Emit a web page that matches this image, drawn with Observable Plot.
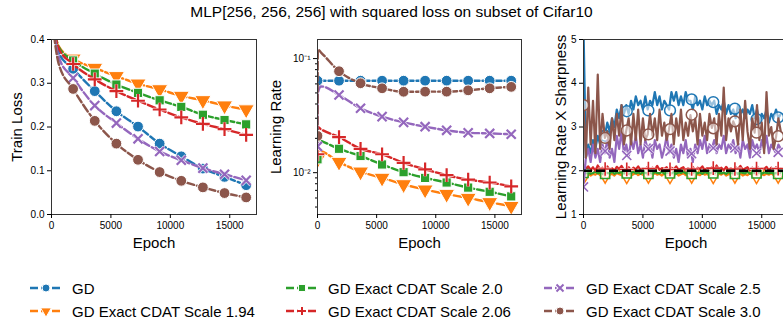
<!DOCTYPE html>
<html><head><meta charset="utf-8">
<script src="https://cdn.jsdelivr.net/npm/d3@7"></script>
<script src="https://cdn.jsdelivr.net/npm/@observablehq/plot@0.6"></script>
<style>
body{margin:0;background:#fff;}
#wrap{position:relative;width:783px;height:320px;overflow:hidden;font-family:"Liberation Sans",Arial,sans-serif;color:#000;}
#title{position:absolute;left:0;width:783px;top:3px;text-align:center;font-size:15.5px;}
.panel{position:absolute;top:0;}
.leg{position:absolute;font-size:15px;display:flex;align-items:center;white-space:nowrap;height:16px;}
.leg svg{margin-right:10px;overflow:visible;}
</style></head><body>
<div id="wrap"><div id="title">MLP[256, 256, 256] with squared loss on subset of Cifar10</div></div>
<script>
// ---------- series ----------
const seriesNames = ["GD", "GD Exact CDAT Scale 1.94", "GD Exact CDAT Scale 2.0", "GD Exact CDAT Scale 2.06", "GD Exact CDAT Scale 2.5", "GD Exact CDAT Scale 3.0"];
const seriesColors = ["#1f77b4", "#ff7f0e", "#2ca02c", "#d62728", "#9467bd", "#8c564b"];
const seriesSymbols = ["circle", "triangle", "square", "plus", "times", "circle"];

// marker epochs
const markerEpochs = [0, 1820, 3640, 5460, 7280, 9100, 10920, 12740, 14560, 16380];

// ---------- panel 1: train loss ----------
const lossEpochs = [0, 600, 1820, 3640, 5460, 7280, 9100, 10920, 12740, 14560, 16380];
const lossGD    = [0.46, 0.370, 0.333, 0.282, 0.236, 0.201, 0.162, 0.133, 0.105, 0.086, 0.067];
const loss194   = [0.46, 0.385, 0.356, 0.335, 0.316, 0.299, 0.286, 0.271, 0.261, 0.249, 0.240];
const loss200   = [0.46, 0.383, 0.352, 0.322, 0.297, 0.278, 0.261, 0.246, 0.228, 0.216, 0.206];
const loss206   = [0.46, 0.380, 0.344, 0.309, 0.282, 0.260, 0.240, 0.222, 0.207, 0.195, 0.182];
const loss250   = [0.46, 0.360, 0.312, 0.249, 0.209, 0.173, 0.144, 0.124, 0.106, 0.092, 0.078];
const loss300   = [0.46, 0.345, 0.287, 0.214, 0.162, 0.125, 0.097, 0.077, 0.062, 0.049, 0.039];
const lossTicks = [0, 0.1, 0.2, 0.3, 0.4];

// ---------- panel 2: learning rate ----------
const lrEpochs = [0, 30, 300, 1820, 3640, 5460, 7280, 9100, 10920, 12740, 14560, 16380];
const lrGD  = [0.064, 0.064, 0.064, 0.064, 0.064, 0.064, 0.064, 0.064, 0.064, 0.064, 0.064, 0.064];
const lr194 = [0.013, 0.0158, 0.0155, 0.0124, 0.0102, 0.0090, 0.0079, 0.0071, 0.0065, 0.0060, 0.0055, 0.0051];
const lr200 = [0.0131, 0.0195, 0.0190, 0.0162, 0.0140, 0.0118, 0.0101, 0.0090, 0.0082, 0.0074, 0.0068, 0.0062];
const lr206 = [0.0145, 0.0250, 0.0240, 0.0205, 0.0162, 0.0145, 0.0122, 0.0107, 0.0095, 0.0087, 0.0082, 0.0076];
const lr250 = [0.017, 0.050, 0.057, 0.048, 0.0367, 0.0310, 0.0276, 0.0253, 0.0235, 0.0224, 0.0221, 0.0217];
const lr300 = [0.021, 0.120, 0.113, 0.0775, 0.0608, 0.0549, 0.0512, 0.0513, 0.0513, 0.0527, 0.0549, 0.0565];
const lrMajorTicks = [0.01, 0.1];
const lrMajorLabels = ["10\u207B\u00B2", "10\u207B\u00B9"];
const lrMinorTicks = [0.005, 0.006, 0.007, 0.008, 0.009, 0.02, 0.03, 0.04, 0.05, 0.06, 0.07, 0.08, 0.09];

// ---------- panel 3: learning rate x sharpness ----------
const shEpochs = [0,200,400,600,800,1000,1200,1400,1600,1800,
  2000,2200,2400,2600,2800,3000,3200,3400,3600,3800,
  4000,4200,4400,4600,4800,5000,5200,5400,5600,5800,
  6000,6200,6400,6600,6800,7000,7200,7400,7600,7800,
  8000,8200,8400,8600,8800,9000,9200,9400,9600,9800,
  10000,10200,10400,10600,10800,11000,11200,11400,11600,11800,
  12000,12200,12400,12600,12800,13000,13200,13400,13600,13800,
  14000,14200,14400,14600,14800,15000,15200,15400,15600,15800,
  16000,16200,16400,16600];
const shGD = [5.3,2.3,2.6,2.4,2.7,2.5,2.8,2.6,2.9,2.8,
  3.1,2.9,3.2,3.0,3.4,3.2,3.5,3.3,3.5,3.3,
  3.6,3.4,3.7,3.5,3.6,3.4,3.7,3.4,3.6,3.5,
  3.8,3.5,3.7,3.4,3.6,3.5,3.4,3.8,3.6,3.8,
  3.5,3.7,3.5,3.8,3.6,3.6,3.4,3.7,3.5,3.6,
  3.4,3.7,3.5,3.6,3.5,3.6,3.3,3.5,3.4,3.6,
  3.3,3.5,3.3,3.4,3.2,3.5,3.3,3.4,3.2,3.4,
  3.3,3.5,3.2,3.4,3.1,3.3,3.2,3.4,3.1,3.3,
  3.2,3.4,3.2,3.3];
const sh194 = [1.92,1.90,1.94,1.89,1.93,1.91,1.95,1.90,1.92,1.88,
  1.94,1.91,1.93,1.89,1.95,1.92,1.90,1.94,1.91,1.93,
  1.89,1.92,1.95,1.90,1.93,1.91,1.94,1.89,1.92,1.90,
  1.95,1.91,1.93,1.89,1.94,1.92,1.90,1.93,1.91,1.95,
  1.89,1.92,1.94,1.90,1.93,1.91,1.94,1.89,1.92,1.90,
  1.95,1.91,1.93,1.89,1.94,1.92,1.90,1.93,1.91,1.95,
  1.89,1.92,1.94,1.90,1.93,1.91,1.94,1.89,1.92,1.90,
  1.95,1.91,1.93,1.89,1.94,1.92,1.90,1.93,1.91,1.94,
  1.90,1.92,1.93,1.91];
const sh200 = [1.96,1.94,1.97,1.93,1.95,1.98,1.94,1.96,1.93,1.97,
  1.95,1.94,1.98,1.93,1.96,1.95,1.97,1.94,1.96,1.93,
  1.95,1.98,1.94,1.96,1.93,1.97,1.95,1.94,1.96,1.93,
  1.97,1.95,1.94,1.98,1.93,1.96,1.95,1.94,1.97,1.93,
  1.96,1.95,1.98,1.94,1.96,1.93,1.95,1.97,1.94,1.96,
  1.93,1.97,1.95,1.94,1.96,1.93,1.98,1.95,1.94,1.96,
  1.93,1.97,1.95,1.94,1.96,1.93,1.97,1.95,1.94,1.98,
  1.93,1.96,1.95,1.94,1.97,1.93,1.96,1.95,1.94,1.96,
  1.93,1.95,1.94,1.96];
const sh206 = [2.00,2.05,2.10,2.02,2.08,2.00,2.12,2.04,2.07,2.01,
  2.10,2.03,2.06,2.00,2.09,2.04,2.11,2.02,2.05,2.08,
  2.01,2.07,2.03,2.10,2.02,2.06,2.04,2.09,2.01,2.07,
  2.03,2.11,2.02,2.06,2.04,2.08,2.00,2.07,2.03,2.10,
  2.02,2.05,2.08,2.01,2.06,2.03,2.09,2.02,2.07,2.04,
  2.10,2.01,2.06,2.03,2.08,2.02,2.12,2.04,2.07,2.01,
  2.09,2.03,2.06,2.02,2.08,2.04,2.11,2.02,2.05,2.08,
  2.01,2.07,2.03,2.10,2.02,2.06,2.04,2.09,2.01,2.07,
  2.03,2.08,2.02,2.06];
const sh250 = [1.65,2.3,2.5,2.2,2.6,2.3,2.5,2.2,2.6,2.4,
  2.7,2.3,2.5,2.2,2.8,2.5,2.9,2.4,2.6,2.3,
  2.7,2.5,2.8,2.4,2.6,2.3,2.7,2.5,2.6,2.3,
  2.7,2.5,2.6,2.3,2.5,2.8,2.4,2.6,2.3,2.5,
  2.2,2.6,2.4,2.7,2.3,2.5,2.2,2.6,2.4,2.7,
  2.5,2.8,2.4,2.6,2.5,2.7,2.4,2.6,2.5,2.8,
  2.4,2.6,2.5,2.7,2.4,2.6,2.3,2.7,2.5,2.6,
  2.3,2.7,2.5,2.6,2.4,2.7,2.5,2.8,2.4,2.6,
  2.5,2.4,2.6,2.5];
const sh300 = [3.5,2.3,3.9,2.6,3.6,2.4,4.2,2.5,3.3,2.75,
  2.9,2.5,3.2,2.7,3.3,2.8,3.5,2.6,2.92,3.2,
  2.6,3.3,2.7,3.4,2.6,3.2,2.7,2.83,3.3,2.8,
  3.2,2.7,3.4,2.8,3.1,2.7,2.95,3.3,2.6,3.2,
  2.8,3.4,2.7,3.1,2.8,3.27,2.9,3.2,2.6,3.3,
  2.8,3.1,2.7,3.3,2.98,3.2,2.6,3.3,2.8,3.9,
  2.7,3.2,2.9,3.13,3.0,2.6,3.4,2.7,3.6,2.9,
  2.5,3.2,2.87,3.5,2.7,3.1,2.4,3.8,2.8,3.0,
  2.5,2.77,3.2,2.9];
// marker values in panel 3 (at markerEpochs)
const shMarkGD  = [null, 2.8, 3.36, 3.38, 3.38, 3.63, 3.57, 3.42, 3.18, 3.22];
const shMark194 = [1.90, 1.93, 1.92, 1.93, 1.92, 1.93, 1.92, 1.93, 1.92, 1.93];
const shMark200 = [1.95, 1.93, 1.94, 1.93, 1.94, 1.93, 1.94, 1.93, 1.94, 1.93];
const shMark206 = [2.00, 2.04, 2.03, 2.05, 2.03, 2.04, 2.06, 2.04, 2.05, 2.05];
const shMark250 = [1.63, 2.45, 2.35, 2.50, 2.45, 2.39, 2.52, 2.52, 2.40, 2.42];
const shMark300 = [3.50, 2.75, 2.92, 2.83, 2.95, 3.28, 2.97, 3.13, 2.87, 2.79];
const shReference = 2;
const shTicks = [1, 2, 3, 4, 5];

const epochTicks = [0, 5000, 10000, 15000];
const epochDomain = [0, 17250];

// ---------- helpers ----------
const FONT = '"Liberation Sans", Arial, sans-serif';
function rows(epochs, vals, s) {
  const out = [];
  vals.forEach((v, i) => { if (v != null && epochs[i] != null) out.push({s, x: epochs[i], y: v}); });
  return out;
}
function markerMarks(data, s, hollow) {
  const sym = seriesSymbols[s], col = seriesColors[s];
  const strokeSym = sym === "plus" || sym === "times";
  const o = {x: "x", y: "y", symbol: () => sym, clip: true};
  if (strokeSym) {
    const r = sym === "plus" ? 4.5 : 4.2;
    return [Plot.dot(data, {...o, r, stroke: "white", strokeWidth: hollow ? 3 : 3.6, strokeOpacity: 0.85, fill: "none"}),
            Plot.dot(data, {...o, r, stroke: col, strokeWidth: hollow ? 1.6 : 2.2, fill: "none"})];
  }
  const r = sym === "square" ? 5.2 : sym === "triangle" ? 6 : 5.4;
  return [Plot.dot(data, {...o, r, fill: hollow ? "white" : col, fillOpacity: hollow ? 0.55 : 1,
    stroke: hollow ? col : "white", strokeWidth: hollow ? 1.5 : 1, rotate: sym === "triangle" ? 180 : 0})];
}
function place(el, left) {
  el.classList.add("panel");
  el.style.left = left + "px";
  document.getElementById("wrap").appendChild(el);
}
const base = {height: 250, marginTop: 39, marginBottom: 36,
  style: {fontSize: "10px", fontFamily: FONT, color: "#000", background: "transparent", overflow: "visible"}};
function xAxis() {
  return Plot.axisX({ticks: epochTicks, tickFormat: d => String(d), tickSize: 4, tickPadding: 3,
    label: "Epoch", labelAnchor: "center", labelArrow: "none", labelOffset: 33, fontSize: 15});
}

// ---------- panel 1 ----------
{
  const lists = [lossGD, loss194, loss200, loss206, loss250, loss300];
  const marks = [];
  lists.forEach((vals, s) => {
    const d = rows(lossEpochs, vals, s);
    marks.push(Plot.line(d, {x: "x", y: "y", stroke: seriesColors[s], strokeWidth: 2.4, strokeDasharray: "8,3", curve: "monotone-x", clip: true}));
    marks.push(...markerMarks(d.filter(p => markerEpochs.includes(p.x)), s, false));
  });
  const p = Plot.plot({...base, width: 262, marginLeft: 51, marginRight: 6,
    x: {domain: epochDomain}, y: {domain: [0, 0.4]},
    marks: [
      ...marks,
      Plot.frame({stroke: "#333"}),
      xAxis(),
      Plot.axisY({ticks: lossTicks, tickFormat: d => d.toFixed(1), tickSize: 4, tickPadding: 3,
        label: "Train Loss", labelAnchor: "center", labelArrow: "none", labelOffset: 40, fontSize: 15})
    ]});
  place(p, 0);
}

// ---------- panel 2 ----------
{
  const lists = [lrGD, lr194, lr200, lr206, lr250, lr300];
  const marks = [];
  lists.forEach((vals, s) => {
    const d = rows(lrEpochs, vals, s);
    marks.push(Plot.line(d, {x: "x", y: "y", stroke: seriesColors[s], strokeWidth: 2.4, strokeDasharray: "8,3", curve: "monotone-x", clip: true}));
    marks.push(...markerMarks(d.filter(p => markerEpochs.includes(p.x)), s, false));
  });
  const p = Plot.plot({...base, width: 266, marginLeft: 55, marginRight: 7,
    x: {domain: epochDomain}, y: {type: "log", domain: [0.0043, 0.147]},
    marks: [
      ...marks,
      Plot.frame({stroke: "#333"}),
      xAxis(),
      Plot.axisY({ticks: lrMinorTicks, tickFormat: () => "", tickSize: 2, label: null}),
      Plot.axisY({ticks: lrMajorTicks, tickFormat: d => lrMajorLabels[lrMajorTicks.indexOf(d)], tickSize: 4, tickPadding: 3,
        label: "Learning Rate", labelAnchor: "center", labelArrow: "none", labelOffset: 47, fontSize: 15})
    ]});
  place(p, 262);
}

// ---------- panel 3 ----------
{
  const lists = [shGD, sh194, sh200, sh206, sh250, sh300];
  const mlists = [shMarkGD, shMark194, shMark200, shMark206, shMark250, shMark300];
  const marks = [];
  lists.forEach((vals, s) => {
    const d = rows(shEpochs, vals, s);
    marks.push(Plot.line(d, {x: "x", y: "y", stroke: seriesColors[s], strokeWidth: 2.2, clip: true}));
    marks.push(...markerMarks(rows(markerEpochs, mlists[s], s), s, true));
  });
  const p = Plot.plot({...base, width: 265, marginLeft: 55, marginRight: 5,
    x: {domain: epochDomain}, y: {domain: [1, 5]},
    marks: [
      ...marks,
      Plot.ruleY([shReference], {stroke: "black", strokeWidth: 2.6, strokeDasharray: "9,4"}),
      Plot.frame({stroke: "#333"}),
      xAxis(),
      Plot.axisY({ticks: shTicks, tickFormat: d => String(d), tickSize: 4, tickPadding: 3,
        label: "Learning Rate X Sharpness", labelAnchor: "center", labelArrow: "none", labelOffset: 28, fontSize: 15})
    ]});
  place(p, 528);
}

// tick labels at 10px, axis titles at 15px
document.querySelectorAll(".panel g[aria-label$='tick label']").forEach(el => {
  el.setAttribute("font-size", "10");
  el.querySelectorAll("text").forEach(t => t.setAttribute("font-size", "10"));
});

// ---------- legend ----------
{
  const legendCols = [30, 286, 544];
  const legendRows = [288, 311];
  const order = [0, 1, 2, 3, 4, 5]; // column-major
  const wrap = document.getElementById("wrap");
  order.forEach((s, k) => {
    const col = Math.floor(k / 2), row = k % 2;
    const div = document.createElement("div");
    div.className = "leg";
    div.style.left = legendCols[col] + "px";
    div.style.top = (legendRows[row] - 8) + "px";
    const svg = d3.create("svg").attr("width", 32).attr("height", 16);
    svg.append("line").attr("x1", 0).attr("x2", 32).attr("y1", 8).attr("y2", 8)
      .attr("stroke", seriesColors[s]).attr("stroke-width", 2.3).attr("stroke-dasharray", "8,3");
    const sym = seriesSymbols[s];
    const g = svg.append("g").attr("transform", "translate(16,8)");
    if (sym === "plus") {
      g.append("path").attr("d", "M-4,0H4M0,-4V4").attr("stroke", "white").attr("stroke-width", 4);
      g.append("path").attr("d", "M-4,0H4M0,-4V4").attr("stroke", seriesColors[s]).attr("stroke-width", 2);
    } else if (sym === "times") {
      g.append("path").attr("d", "M-3.5,-3.5L3.5,3.5M-3.5,3.5L3.5,-3.5").attr("stroke", "white").attr("stroke-width", 4);
      g.append("path").attr("d", "M-3.5,-3.5L3.5,3.5M-3.5,3.5L3.5,-3.5").attr("stroke", seriesColors[s]).attr("stroke-width", 2);
    } else {
      const t = sym === "circle" ? d3.symbolCircle : sym === "square" ? d3.symbolSquare : d3.symbolTriangle;
      g.append("path").attr("d", d3.symbol(t, 50)()).attr("fill", seriesColors[s]).attr("stroke", "white").attr("stroke-width", 1)
        .attr("transform", sym === "triangle" ? "rotate(180)" : null);
    }
    div.appendChild(svg.node());
    const span = document.createElement("span");
    span.textContent = seriesNames[s];
    div.appendChild(span);
    wrap.appendChild(div);
  });
}
</script>
</body></html>
